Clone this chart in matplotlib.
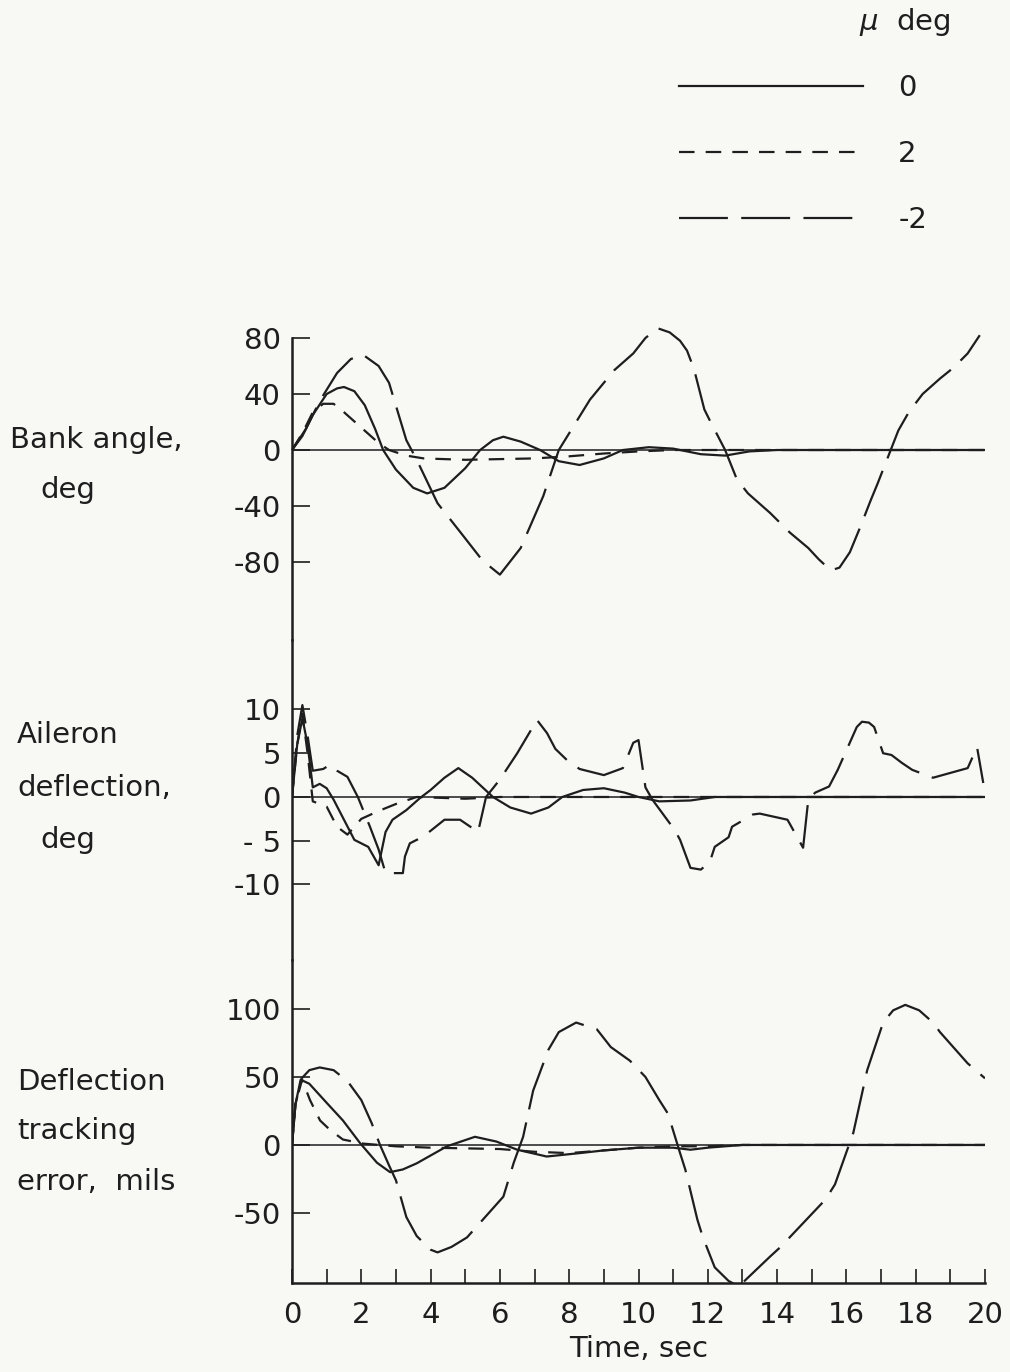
import matplotlib
matplotlib.use('Agg')
import matplotlib.pyplot as plt

plt.rcParams['font.family'] = ['DejaVu Sans']

INK = '#1e1e1e'
BG = '#f8f8f5'

# ---------------- data ----------------
mu_labels = ['0', '2', '-2']
time_ticks = [0, 2, 4, 6, 8, 10, 12, 14, 16, 18, 20]

# Bank angle, deg
bank_t_0 = [0, 0.3, 0.6, 1.0, 1.3, 1.5, 1.8, 2.1, 2.4, 2.63, 3.0, 3.5, 3.9, 4.4, 5.0, 5.43, 5.8, 6.1, 6.6, 7.16, 7.7, 8.3, 9.0, 9.55, 10.3, 11.0, 11.8, 12.5, 13.2, 14.0, 20.0]
bank_0   = [0, 10, 25, 40, 44, 45, 42, 32, 15, 0, -14, -27, -31, -27, -13, 0, 7, 9.5, 6, 0, -8, -10.7, -6, 0, 2, 1, -3, -4, -1, 0, 0]
bank_t_2 = [0, 0.3, 0.6, 0.9, 1.2, 1.5, 2.0, 2.5, 2.8, 3.3, 3.8, 5.0, 6.0, 7.0, 8.0, 9.0, 10.0, 11.0, 20.0]
bank_2   = [0, 12, 27, 33, 33, 27, 16, 5, 0, -4, -6, -7, -6.5, -6, -4.5, -2.5, -1, 0, 0]
bank_t_m2 = [0, 0.4, 0.8, 1.3, 1.7, 2.05, 2.5, 2.8, 3.3, 3.6, 4.2, 4.9, 5.5, 6.0, 6.6, 7.25, 7.7, 8.6, 9.3, 9.85, 10.2, 10.55, 10.9, 11.2, 11.4, 11.6, 11.9, 12.06, 12.5, 12.84, 13.16, 13.8, 14.37, 14.9, 15.2, 15.55, 15.8, 16.1, 16.4, 16.7, 16.9, 17.2, 17.5, 17.8, 18.2, 18.7, 19.1, 19.5, 19.85]
bank_m2   = [0, 15, 35, 55, 65, 68, 60, 48, 7, -7, -38, -60, -79, -89, -70, -33, 0, 36, 57, 69, 80, 87, 84, 78, 71, 58, 29, 21, 0, -21, -31, -45, -59, -70, -78, -86, -84, -73, -55, -36, -24, -5, 14, 27, 40, 51, 59, 69, 82]

# Aileron deflection, deg
ail_t_0 = [0, 0.15, 0.3, 0.45, 0.6, 0.8, 1.0, 1.2, 1.5, 1.8, 2.2, 2.5, 2.7, 2.9, 3.3, 3.7, 4.0, 4.4, 4.8, 5.2, 5.5, 5.8, 6.3, 6.9, 7.4, 7.8, 8.4, 9.0, 9.6, 10.0, 10.6, 11.5, 12.2, 20.0]
ail_0   = [0, 6, 9, 6, 1.1, 1.5, 1.0, -0.3, -2.6, -4.9, -5.7, -7.8, -4, -2.6, -1.5, -0.1, 0.8, 2.2, 3.3, 2.2, 1.1, 0, -1.2, -1.9, -1.2, 0, 0.8, 1.0, 0.5, 0, -0.5, -0.4, 0, 0]
ail_t_2 = [0, 0.15, 0.3, 0.45, 0.6, 0.8, 1.0, 1.3, 1.6, 2.0, 2.5, 3.0, 3.6, 5.0, 6.0, 20.0]
ail_2   = [0, 6, 9.5, 5, -0.5, -0.8, -1.1, -3.4, -4.3, -2.5, -1.6, -0.8, 0, -0.2, 0, 0]
ail_t_m2 = [0, 0.15, 0.3, 0.45, 0.6, 0.9, 1.1, 1.3, 1.6, 1.9, 2.25, 2.5, 2.7, 3.2, 3.26, 3.4, 3.8, 4.4, 4.85, 5.37, 5.6, 6.0, 6.5, 7.07, 7.36, 7.6, 7.94, 8.3, 9.0, 9.55, 9.85, 10.0, 10.2, 10.4, 11.05, 11.2, 11.5, 11.8, 12.06, 12.2, 12.6, 12.7, 13.3, 13.5, 14.3, 14.75, 14.9, 15.1, 15.5, 15.75, 16.3, 16.45, 16.65, 16.8, 17.06, 17.3, 17.6, 17.9, 18.5, 19.5, 19.77, 19.95]
ail_m2   = [0, 7, 10.5, 7, 3, 3.2, 3.7, 3.0, 2.3, 0, -3.4, -6, -8.7, -8.7, -6.8, -5.3, -4.5, -2.6, -2.6, -4, 0, 2, 5, 8.8, 7.3, 5.5, 4.2, 3.2, 2.5, 3.3, 6.2, 6.5, 1.1, -0.3, -3.8, -4.9, -8.1, -8.3, -7.4, -5.7, -4.6, -3.4, -2, -1.9, -2.6, -5.8, -0.3, 0.5, 1.2, 3.1, 8, 8.6, 8.5, 8, 5, 4.8, 3.9, 3.1, 2.2, 3.3, 5.7, 1.6]

# Deflection tracking error, mils
err_t_0 = [0, 0.1, 0.25, 0.5, 1.0, 1.47, 1.96, 2.45, 2.83, 3.2, 3.6, 4.47, 5.28, 5.9, 6.5, 7.35, 8.3, 9.0, 10.0, 11.0, 11.5, 12.0, 13.0, 20.0]
err_0   = [0, 30, 48, 45, 31, 18, 1.5, -13, -20, -18, -13.5, -1, 6, 2.5, -3.5, -8.5, -6, -4, -2, -2, -3.5, -2, 0, 0]
err_t_2 = [0, 0.1, 0.29, 0.52, 0.81, 1.1, 1.47, 2.05, 3.0, 4.0, 5.0, 6.0, 7.0, 8.0, 9.0, 10.0, 11.0, 12.0, 13.0, 20.0]
err_2   = [0, 30, 48, 33, 18, 11, 4, 1, -1, -2, -2.5, -3, -5, -6, -4, -2, -1, -1, 0, 0]
err_t_m2 = [0, 0.1, 0.28, 0.5, 0.8, 1.2, 1.6, 2.0, 2.3, 2.54, 2.8, 3.0, 3.3, 3.6, 4.0, 4.2, 4.6, 5.05, 6.1, 6.4, 6.67, 6.96, 7.4, 7.7, 8.2, 8.8, 9.2, 9.75, 10.2, 10.6, 10.85, 11.2, 11.35, 11.7, 11.86, 12.2, 12.6, 12.9, 13.1, 13.8, 14.1, 15.4, 15.67, 16.2, 16.6, 17.06, 17.35, 17.7, 18.1, 18.5, 18.7, 19.5, 20.0]
err_m2   = [0, 30, 49, 55, 57, 55, 47, 33, 16, 0, -15, -26, -53, -67, -77, -79, -75, -68, -38, -13, 6, 40, 70, 83, 90, 85, 72, 62, 50, 33, 23, -6, -18, -55, -68, -90, -100, -104, -99, -82, -75, -40, -29, 9, 55, 90, 99, 103, 99, 90, 83, 60, 49]

# ---------------- layout ----------------
W_PX, H_PX = 1010, 1372
fig = plt.figure(figsize=(W_PX / 100, H_PX / 100), dpi=100, facecolor=BG)

x_left, x_right = 292, 985
panels = [  # (top px, bottom px, ymin, ymax)
    (338, 640, -135.7, 80.0),
    (640, 960, -18.63, 17.94),
    (960, 1283, -101.5, 136.0),
]
axes = []
for top, bot, ymin, ymax in panels:
    ax = fig.add_axes([x_left / W_PX, 1 - bot / H_PX, (x_right - x_left) / W_PX, (bot - top) / H_PX])
    ax.set_facecolor('none')
    ax.set_xlim(0, 20)
    ax.set_ylim(ymin, ymax)
    for s in ('top', 'right'):
        ax.spines[s].set_visible(False)
    ax.spines['left'].set_linewidth(1.8)
    ax.spines['left'].set_color(INK)
    ax.spines['left'].set_capstyle('projecting')
    ax.tick_params(axis='y', direction='in', length=13, width=1.2, colors=INK,
                   labelsize=21, pad=8)
    ax.axhline(0, color=INK, lw=1.1, zorder=1)
    axes.append(ax)

ax1, ax2, ax3 = axes
for ax in (ax1, ax2):
    ax.spines['bottom'].set_visible(False)
    ax.tick_params(axis='x', which='both', bottom=False, labelbottom=False)

ax3.spines['bottom'].set_linewidth(1.8)
ax3.spines['bottom'].set_color(INK)
ax3.set_xticks(time_ticks)
ax3.set_xticks(range(0, 21), minor=True)
ax3.tick_params(axis='x', which='both', direction='in', length=10, width=1.2,
                colors=INK, labelsize=21, pad=13)
ax3.set_xlabel('Time, sec', fontsize=21, color=INK, labelpad=4)

ax1.set_yticks([-80, -40, 0, 40, 80], ['-80', '-40', '0', '40', '80'])
ax2.set_yticks([-10, -5, 0, 5, 10], ['-10', '- 5', '0', '5', '10'])
ax3.set_yticks([-50, 0, 50, 100], ['-50', '0', '50', '100'])

solid = dict(color=INK, lw=1.6, linestyle='-')
short = dict(color=INK, lw=1.6, linestyle=(0, (7, 5)))
longd = dict(color=INK, lw=1.6, linestyle=(0, (22, 6)))

l0, = ax1.plot(bank_t_0, bank_0, **solid)
l2, = ax1.plot(bank_t_2, bank_2, **short)
lm2, = ax1.plot(bank_t_m2, bank_m2, clip_on=False, **longd)

ax2.plot(ail_t_0, ail_0, **solid)
ax2.plot(ail_t_2, ail_2, **short)
ax2.plot(ail_t_m2, ail_m2, **longd)

ax3.plot(err_t_0, err_0, **solid)
ax3.plot(err_t_2, err_2, **short)
ax3.plot(err_t_m2, err_m2, **longd)

# panel labels
lab = dict(fontsize=21, color=INK, va='center', ha='left')
fig.text(10 / W_PX, 1 - 440 / H_PX, 'Bank angle,', **lab)
fig.text(40 / W_PX, 1 - 490 / H_PX, 'deg', **lab)
fig.text(17 / W_PX, 1 - 735 / H_PX, 'Aileron', **lab)
fig.text(17 / W_PX, 1 - 788 / H_PX, 'deflection,', **lab)
fig.text(40 / W_PX, 1 - 840 / H_PX, 'deg', **lab)
fig.text(17 / W_PX, 1 - 1082 / H_PX, 'Deflection', **lab)
fig.text(17 / W_PX, 1 - 1131 / H_PX, 'tracking', **lab)
fig.text(17 / W_PX, 1 - 1182 / H_PX, 'error,  mils', **lab)

# legend
fig.text(905 / W_PX, 1 - 22 / H_PX, '$\\mu$  deg', fontsize=21, color=INK,
         ha='center', va='center')
leg = fig.legend([l0, l2, lm2], mu_labels, loc='upper right',
                 bbox_to_anchor=(946 / W_PX, 1 - 55 / H_PX), frameon=False, borderpad=0.15,
                 fontsize=21, handlelength=6.3,
                 handletextpad=1.2, labelspacing=1.3)
for t in leg.get_texts():
    t.set_color(INK)

fig.savefig('out.png', dpi=100, facecolor=BG)
